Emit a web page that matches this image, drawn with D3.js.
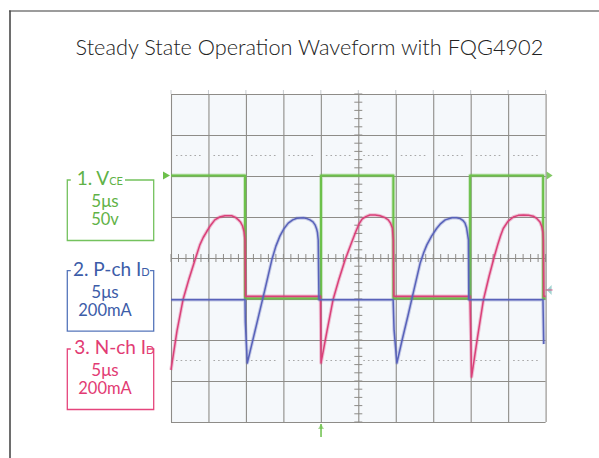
<!DOCTYPE html>
<html><head><meta charset="utf-8">
<script src="https://cdn.jsdelivr.net/npm/d3@7"></script>
<style>
html,body{margin:0;padding:0;background:#fff;}
svg{display:block;font-family:Lato,"Open Sans",sans-serif;}
</style></head><body>
<svg id="c" width="599" height="458"></svg>
<script>
// ---------- data ----------
const chartTitle = "Steady State Operation Waveform with FQG4902";
const xDivs = [0,1,2,3,4,5,6,7,8,9,10];
const yDivs = [-4,-3,-2,-1,0,1,2,3,4];
const dottedLevels = [2.5,-2.5];
const channelNames = ["1. V", "2. P-ch I", "3. N-ch I"];
const channelSubs = ["CE", "D", "D"];
const timeScales = ["5\u03bcs", "5\u03bcs", "5\u03bcs"];
const ampScales = ["50v", "200mA", "200mA"];

// traces: [time (div), level (div)]
const vceTrace = [[0,2.01],[1.976,2.01],[1.976,-0.98],[4.005,-0.98],[4.005,2.01],[5.936,2.01],[5.936,-0.98],[7.984,-0.98],[7.984,2.01],[9.933,2.01],[9.933,-0.98],[10,-0.98]];
const pchTrace = [[0,-1.02],[1.976,-1.02],[1.984,-1.56],[2.037,-2.56],[2.19,-1.98],[2.35,-1.37],[2.51,-0.76],[2.69,-0.05],[2.80,0.29],[2.91,0.54],[3.02,0.72],[3.13,0.85],[3.25,0.93],[3.36,0.97],[3.53,0.98],[3.63,0.96],[3.71,0.93],[3.79,0.88],[3.85,0.80],[3.89,0.70],[3.91,0.62],[3.93,0.44],[3.95,-1.02],
  [5.93,-1.02],[5.955,-1.76],[6.03,-2.56],[6.17,-2.0],[6.33,-1.39],[6.49,-0.76],[6.65,-0.13],[6.75,0.14],[6.83,0.32],[6.96,0.54],[7.09,0.72],[7.20,0.84],[7.32,0.93],[7.50,0.98],[7.62,0.98],[7.72,0.96],[7.80,0.91],[7.85,0.85],[7.89,0.74],[7.91,0.62],[7.94,0.44],[7.95,-1.02],
  [9.93,-1.02],[9.95,-2.1]];
const nchTrace = [[0,-2.73],[0.16,-1.78],[0.32,-1.02],[0.48,-0.51],[0.64,-0.05],[0.77,0.32],[0.86,0.50],[0.95,0.64],[1.06,0.80],[1.17,0.93],[1.30,1.0],[1.44,1.03],[1.62,1.03],[1.72,0.99],[1.80,0.93],[1.86,0.87],[1.91,0.78],[1.95,0.64],[1.976,0.44],[1.99,-0.93],
  [3.99,-0.93],[4.005,-2.56],[4.165,-1.78],[4.325,-1.02],[4.486,-0.51],[4.646,-0.05],[4.806,0.34],[4.94,0.66],[5.02,0.83],[5.10,0.95],[5.20,1.01],[5.31,1.05],[5.45,1.05],[5.58,1.03],[5.70,0.99],[5.80,0.93],[5.86,0.85],[5.91,0.73],[5.936,0.44],[5.95,-0.93],
  [7.98,-0.93],[8.024,-2.90],[8.18,-1.95],[8.34,-1.02],[8.49,-0.45],[8.62,0.0],[8.72,0.32],[8.80,0.55],[8.87,0.72],[9.0,0.90],[9.14,1.0],[9.27,1.04],[9.41,1.05],[9.55,1.04],[9.67,1.02],[9.77,0.96],[9.85,0.88],[9.90,0.76],[9.93,0.62],[9.94,0.44],[9.955,-0.93],[10,-0.93]];

// ---------- layout ----------
const svg = d3.select("#c");
const X0 = 171, X1 = 545.6, Y0 = 94, Y1 = 422;
const x = d3.scaleLinear().domain([0,10]).range([X0,X1]);
const y = d3.scaleLinear().domain([-4,4]).range([Y1,Y0]);
const colors = {green:"#6cc04a", blue:"#5862ba", red:"#da4079"};
const textColors = ["#5fb246","#3c5ca8","#e23b73"];
const boxColors = ["#74c25e","#5676bb","#e5457c"];

// frame
svg.append("line").attr("x1",9).attr("x2",599).attr("y1",11).attr("y2",11).attr("stroke","#3a3a3a").attr("stroke-width",1.2);
svg.append("line").attr("x1",10).attr("x2",10).attr("y1",10.4).attr("y2",458).attr("stroke","#4a4a4a").attr("stroke-width",1.6);

// title
const tt = svg.append("text").attr("x",75.6).attr("y",55).attr("font-size",22).attr("font-weight",300).attr("fill","#222").text(chartTitle);
const tw = tt.node().getComputedTextLength();
tt.attr("font-size", 22*468/tw);

// plot background
svg.append("rect").attr("x",X0).attr("y",Y0).attr("width",X1-X0).attr("height",Y1-Y0).attr("fill","#f5f8fb");

// top faint ticks
svg.append("g").selectAll("line").data(xDivs).join("line")
  .attr("x1",d=>x(d)).attr("x2",d=>x(d)).attr("y1",Y0-4).attr("y2",Y0).attr("stroke","#c8ccd0").attr("stroke-width",1);

// dotted rows
const dg = svg.append("g");
dottedLevels.forEach(lv=>{
  dg.selectAll(null).data(xDivs.slice(0,-1)).join("line")
    .attr("x1",d=>x(d)+5).attr("x2",d=>x(d+1)-5).attr("y1",y(lv)).attr("y2",y(lv))
    .attr("stroke","#a8a8a8").attr("stroke-width",1.2).attr("stroke-dasharray","1.6,3");
});

// grid via axes
const gx = svg.append("g").attr("transform",`translate(0,${Y1})`)
  .call(d3.axisBottom(x).tickValues(xDivs).tickSize(-(Y1-Y0)).tickFormat(""));
gx.select(".domain").remove();
gx.selectAll("line").attr("stroke","#8e8c88").attr("stroke-width",1.1);
const gy = svg.append("g").attr("transform",`translate(${X0},0)`)
  .call(d3.axisLeft(y).tickValues(yDivs).tickSize(-(X1-X0)).tickFormat(""));
gy.select(".domain").remove();
gy.selectAll("line").attr("stroke","#8e8c88").attr("stroke-width",1.1);

// minor ticks on centre lines
const minorX = d3.range(0, 10.0001, 0.2);
const minorY = d3.range(-4, 4.0001, 0.2);
svg.append("g").selectAll("line").data(minorX).join("line")
  .attr("x1",d=>x(d)).attr("x2",d=>x(d)).attr("y1",y(0)-4).attr("y2",y(0)+4)
  .attr("stroke","#8e8c88").attr("stroke-width",1);
svg.append("g").selectAll("line").data(minorY).join("line")
  .attr("x1",x(5)-4).attr("x2",x(5)+4).attr("y1",d=>y(d)).attr("y2",d=>y(d))
  .attr("stroke","#8e8c88").attr("stroke-width",1);

// traces
const lineLin = d3.line().x(d=>x(d[0])).y(d=>y(d[1]));
function trace(data, color, w){
  svg.append("path").attr("d",lineLin(data)).attr("fill","none").attr("stroke",color)
    .attr("stroke-width",w+2).attr("stroke-opacity",0.3).attr("stroke-linejoin","round");
  svg.append("path").attr("d",lineLin(data)).attr("fill","none").attr("stroke",color)
    .attr("stroke-width",w).attr("stroke-linejoin","round");
}
trace(vceTrace, colors.green, 2);
trace(nchTrace, colors.red, 1.5);
trace(pchTrace, colors.blue, 1.5);

// markers
const ly = y(vceTrace[0][1]);
svg.append("path").attr("d",`M${X0-8},${ly-4}L${X0-1},${ly}L${X0-8},${ly+4}Z`).attr("fill",colors.green);
svg.append("path").attr("d",`M${X1+1},${ly-4}L${X1+7},${ly}L${X1+1},${ly+4}Z`).attr("fill",colors.green).attr("opacity",0.85);
const tx = x(vceTrace[3][0]);
svg.append("line").attr("x1",tx).attr("x2",tx).attr("y1",Y1+2).attr("y2",Y1+15).attr("stroke",colors.green).attr("stroke-width",1.5);
svg.append("path").attr("d",`M${tx-3},${Y1+7}L${tx},${Y1+2}L${tx+3},${Y1+7}Z`).attr("fill",colors.green).attr("opacity",0.6);
const my = y(-0.78);
svg.append("path").attr("d",`M${X1+1},${my}L${X1+6},${my-5}L${X1+6},${my+5}Z`).attr("fill","#66b8b4").attr("opacity",0.6);
svg.append("line").attr("x1",X1).attr("x2",X1+7).attr("y1",my).attr("y2",my).attr("stroke",colors.red).attr("stroke-width",1.2).attr("opacity",0.7);

// channel label boxes
const boxTop = [180, 270.7, 349];
const titleX = [76.7, 73, 74.3];
const rightStub = [125, 150, 148];
const BL = 67.3, BR = 153.7, BH = 60.5;
channelNames.forEach((nm,i)=>{
  const top = boxTop[i], bot = top+BH, c = boxColors[i];
  const g = svg.append("g");
  const p = `M${BL+3.5},${top}L${BL},${top}L${BL},${bot}L${BR},${bot}L${BR},${top}L${rightStub[i]},${top}`;
  g.append("path").attr("d",p).attr("fill","none").attr("stroke",c).attr("stroke-width",1.3);
  const t = g.append("text").attr("x",titleX[i]).attr("y",top+4.8).attr("fill",textColors[i]).attr("font-size",19);
  t.append("tspan").text(nm);
  t.append("tspan").attr("font-size",11).text(channelSubs[i]);
  g.append("text").attr("x",105).attr("y",top+27).attr("text-anchor","middle").attr("fill",textColors[i]).attr("font-size",17).text(timeScales[i]);
  g.append("text").attr("x",105).attr("y",top+45).attr("text-anchor","middle").attr("fill",textColors[i]).attr("font-size",16.5).text(ampScales[i]);
});
</script>
</body></html>
